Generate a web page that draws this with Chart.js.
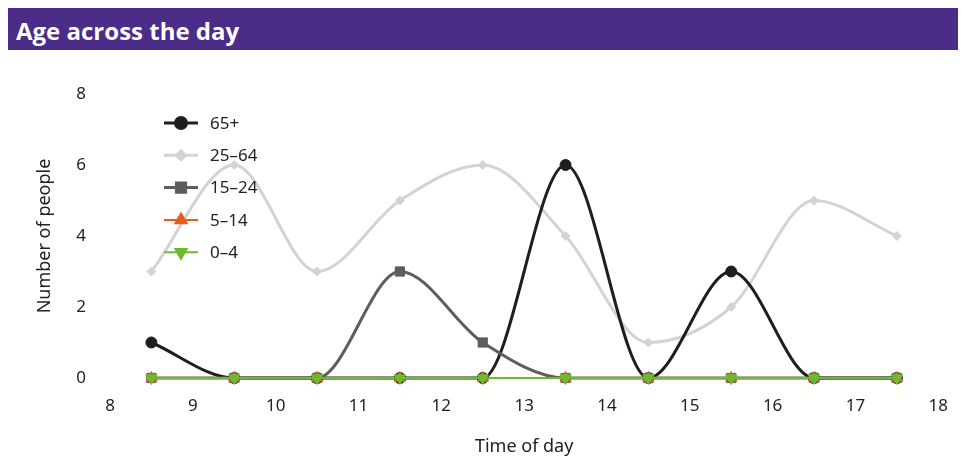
<!DOCTYPE html>
<html>
<head>
<meta charset="utf-8">
<script src="https://cdn.jsdelivr.net/npm/chart.js@4"></script>
<style>
  body { margin: 0; background: #fff; }
  #bar {
    position: absolute; left: 8px; top: 8px; width: 950px; height: 42px;
    background: #4b2c89; color: #fff;
    font: bold 24px "Open Sans", "Noto Sans", sans-serif;
    line-height: 46px; padding-left: 8px; box-sizing: border-box;
  }
  #wrap { position: absolute; left: 0; top: 0; width: 966px; height: 462px; }
</style>
</head>
<body>
<div id="bar">Age across the day</div>
<div id="wrap"><canvas id="ageChart"></canvas></div>
<script>
// hours (midpoint of each hour slot)
const hours = [8.5, 9.5, 10.5, 11.5, 12.5, 13.5, 14.5, 15.5, 16.5, 17.5];

const age65plus = [1, 0, 0, 0, 0, 6, 0, 3, 0, 0];
const age25to64 = [3, 6, 3, 5, 6, 4, 1, 2, 5, 4];
const age15to24 = [0, 0, 0, 3, 1, 0, 0, 0, 0, 0];
const age5to14  = [0, 0, 0, 0, 0, 0, 0, 0, 0, 0];
const age0to4   = [0, 0, 0, 0, 0, 0, 0, 0, 0, 0];

const seriesNames = ["65+", "25–64", "15–24", "5–14", "0–4"];

function pts(vals) {
    return vals.map((v, i) => ({ x: hours[i], y: v }));
}

function series(label, vals, color, style, radius, width, rot, order) {
    return {
        label: label,
        data: pts(vals),
        borderColor: color,
        backgroundColor: color,
        pointStyle: style,
        pointRadius: radius,
        pointRotation: rot,
        borderWidth: width,
        pointBorderWidth: 1,
        cubicInterpolationMode: 'monotone',
        clip: false,
        order: order
    };
}

const datasets = [
    series(seriesNames[0], age65plus, "#1e1e1e", 'circle', 5.5, 3, 0, 4),
    series(seriesNames[1], age25to64, "#d3d3d3", 'rectRot', 4.5, 3, 0, 5),
    series(seriesNames[2], age15to24, "#5d5d5d", 'rect', 6.5, 3, 0, 3),
    series(seriesNames[3], age5to14, "#e85d1a", 'triangle', 6.5, 2, 0, 1),
    series(seriesNames[4], age0to4, "#6cbb2e", 'triangle', 6.5, 2, 180, 0)
];

// legend drawn inside the plot, top left
const insideLegend = {
    id: 'insideLegend',
    afterDraw(chart) {
        const ctx = chart.ctx;
        ctx.save();
        ctx.font = '17px "Noto Sans", sans-serif';
        ctx.textBaseline = 'middle';
        datasets.forEach((ds, i) => {
            const y = 123 + i * 32.3;
            ctx.strokeStyle = ds.borderColor;
            ctx.lineWidth = ds.borderWidth;
            ctx.beginPath();
            ctx.moveTo(164, y);
            ctx.lineTo(198, y);
            ctx.stroke();
            ctx.fillStyle = ds.backgroundColor;
            Chart.helpers.drawPoint(ctx, {
                pointStyle: ds.pointStyle,
                radius: ds.pointRadius,
                rotation: ds.pointRotation,
                borderWidth: 1
            }, 181, y);
            ctx.fillStyle = '#222';
            ctx.fillText(ds.label, 210, y + 1);
        });
        ctx.restore();
    }
};

new Chart(document.getElementById('ageChart').getContext('2d'), {
    type: 'line',
    data: { datasets: datasets },
    options: {
        responsive: true,
        maintainAspectRatio: false,
        animation: false,
        layout: { padding: { top: 94, right: 0, left: 30, bottom: 0 } },
        plugins: { legend: { display: false }, tooltip: { enabled: false } },
        scales: {
            x: {
                type: 'linear',
                min: 8, max: 18,
                grid: { display: false, drawTicks: false },
                border: { display: false },
                ticks: { stepSize: 1, padding: 18, color: '#222', font: { size: 17, family: '"Noto Sans", sans-serif' } },
                title: { display: true, text: 'Time of day', color: '#222', font: { size: 18, family: '"Noto Sans", sans-serif' }, padding: { top: 16 } },
                afterFit(scale) { scale.height = 84; }
            },
            y: {
                min: 0, max: 8,
                grid: { display: false, drawTicks: false },
                border: { display: false },
                ticks: { stepSize: 2, padding: 24, color: '#222', font: { size: 17, family: '"Noto Sans", sans-serif' } },
                title: { display: true, text: 'Number of people', color: '#222', font: { size: 18, family: '"Noto Sans", sans-serif' } },
                afterFit(scale) { scale.width = 80; }
            }
        }
    },
    plugins: [insideLegend]
});
</script>
</body>
</html>
